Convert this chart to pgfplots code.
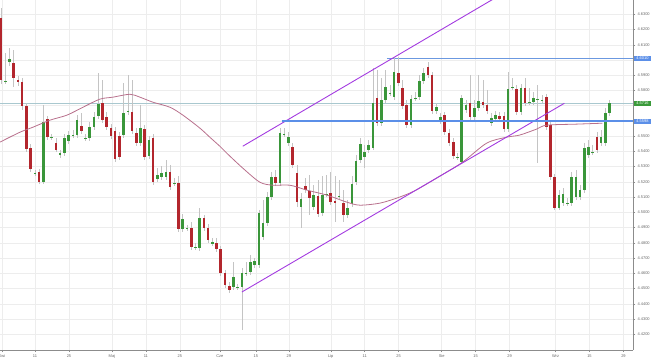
\documentclass[border=0pt]{standalone}
\usepackage{fontspec}
\setmainfont{Liberation Sans}
\usepackage{pgfplots}
\usepackage{pgfplotstable}
\pgfplotsset{compat=1.18}
\definecolor{cgreen}{HTML}{3A963A}
\definecolor{cred}{HTML}{B3262D}
\definecolor{cwick}{HTML}{C4C4C4}
\definecolor{cma}{HTML}{B8708C}
\definecolor{cpurple}{HTML}{A33BE0}
\definecolor{cblue}{HTML}{5B8FE8}
\definecolor{clblue}{HTML}{6B98E0}
\definecolor{cgline}{HTML}{A9C8CF}
\definecolor{cgbox}{HTML}{3A9A3A}

\pgfplotstableread{
x o h l c
1 4.5858 4.6044 4.5841 4.5861
2 4.5985 4.6077 4.5959 4.6005
8 4.5255 4.5277 4.5237 4.5258
10 4.5198 4.5703 4.5185 4.5592
12 4.5491 4.5513 4.5474 4.5494
14 4.5375 4.5408 4.5356 4.5388
15 4.5388 4.5513 4.5369 4.5487
16 4.5467 4.5533 4.5448 4.5507
17 4.5505 4.5539 4.5487 4.5508
18 4.5507 4.5638 4.5487 4.5605
20 4.5485 4.5513 4.5467 4.5488
21 4.5487 4.5592 4.5467 4.5559
22 4.5559 4.5657 4.5539 4.5625
23 4.5631 4.5913 4.5612 4.5710
29 4.5507 4.5848 4.5487 4.5651
30 4.5662 4.5900 4.5638 4.5665
33 4.5454 4.5703 4.5434 4.5553
35 4.5369 4.5500 4.5349 4.5474
37 4.5218 4.5290 4.5198 4.5244
38 4.5231 4.5303 4.5211 4.5257
39 4.5231 4.5342 4.5211 4.5264
41 4.5189 4.5224 4.5172 4.5192
43 4.4890 4.4988 4.4870 4.4955
44 4.4895 4.4916 4.4877 4.4898
46 4.4770 4.4798 4.4752 4.4773
47 4.4765 4.5028 4.4746 4.4962
50 4.4797 4.4831 4.4778 4.4800
55 4.4509 4.4673 4.4490 4.4575
56 4.4507 4.4529 4.4490 4.4510
57 4.4509 4.4634 4.4227 4.4601
58 4.4599 4.4673 4.4581 4.4602
59 4.4607 4.4719 4.4588 4.4673
60 4.4654 4.4700 4.4634 4.4680
61 4.4654 4.5014 4.4634 4.4995
62 4.4837 4.5080 4.4818 4.4929
63 4.4929 4.5132 4.4909 4.5100
64 4.5100 4.5264 4.5080 4.5231
66 4.5191 4.5553 4.5172 4.5520
67 4.5512 4.5553 4.5493 4.5515
68 4.5454 4.5526 4.5434 4.5493
71 4.5034 4.5126 4.4896 4.5087
74 4.5034 4.5178 4.5014 4.5113
76 4.4995 4.5237 4.4975 4.5113
77 4.5118 4.5244 4.5100 4.5121
80 4.5105 4.5211 4.5087 4.5108
82 4.4982 4.5080 4.4962 4.5028
83 4.5054 4.5237 4.5034 4.5185
84 4.5198 4.5375 4.5178 4.5336
85 4.5342 4.5487 4.5323 4.5448
86 4.5362 4.5441 4.5290 4.5395
87 4.5408 4.5474 4.5388 4.5441
88 4.5421 4.5946 4.5408 4.5716
90 4.5585 4.5880 4.5566 4.5736
91 4.5736 4.5933 4.5716 4.5821
92 4.5780 4.5834 4.5762 4.5783
93 4.5756 4.6018 4.5736 4.5920
97 4.5572 4.5769 4.5553 4.5743
98 4.5748 4.5788 4.5729 4.5751
99 4.5756 4.5900 4.5736 4.5861
100 4.5861 4.5946 4.5841 4.5913
103 4.5664 4.5716 4.5644 4.5690
104 4.5598 4.5651 4.5579 4.5625
108 4.5361 4.5388 4.5342 4.5364
109 4.5329 4.5769 4.5316 4.5749
110 4.5670 4.5736 4.5651 4.5703
112 4.5625 4.5736 4.5605 4.5684
113 4.5684 4.5900 4.5664 4.5729
116 4.5585 4.5651 4.5566 4.5618
117 4.5612 4.5664 4.5592 4.5638
120 4.5546 4.5920 4.5526 4.5808
121 4.5819 4.5880 4.5802 4.5822
123 4.5657 4.5841 4.5638 4.5815
125 4.5721 4.5815 4.5703 4.5724
126 4.5723 4.5788 4.5703 4.5749
127 4.5741 4.5834 4.5323 4.5744
128 4.5734 4.5769 4.5716 4.5737
132 4.5028 4.5146 4.5014 4.5113
133 4.5060 4.5159 4.5041 4.5119
134 4.5059 4.5093 4.5041 4.5062
135 4.5060 4.5264 4.5041 4.5231
136 4.5100 4.5277 4.5080 4.5231
137 4.5100 4.5178 4.5080 4.5146
138 4.5146 4.5454 4.5126 4.5421
139 4.5375 4.5474 4.5356 4.5428
140 4.5394 4.5441 4.5375 4.5397
142 4.5454 4.5539 4.5434 4.5493
143 4.5454 4.5684 4.5434 4.5651
144 4.5651 4.5736 4.5631 4.5716
}\greentab

\pgfplotstableread{
x o h l c
0 4.6274 4.6340 4.5841 4.5867
3 4.5979 4.6064 4.5821 4.5880
4 4.5867 4.5893 4.5828 4.5854
5 4.5854 4.5880 4.5670 4.5697
6 4.5697 4.5716 4.5395 4.5415
7 4.5421 4.5448 4.5264 4.5283
9 4.5264 4.5283 4.5185 4.5198
11 4.5612 4.5631 4.5474 4.5493
13 4.5454 4.5487 4.5395 4.5408
19 4.5566 4.5651 4.5513 4.5533
24 4.5716 4.5867 4.5585 4.5605
25 4.5625 4.5657 4.5539 4.5559
26 4.5553 4.5579 4.5480 4.5500
27 4.5533 4.5559 4.5329 4.5349
28 4.5500 4.5526 4.5342 4.5362
31 4.5657 4.5867 4.5513 4.5533
32 4.5520 4.5553 4.5434 4.5454
34 4.5546 4.5572 4.5342 4.5362
36 4.5487 4.5513 4.5178 4.5198
40 4.5264 4.5310 4.5146 4.5165
42 4.5191 4.5237 4.4870 4.4890
45 4.4896 4.4936 4.4752 4.4772
48 4.4962 4.4982 4.4877 4.4896
49 4.4896 4.4923 4.4798 4.4818
51 4.4798 4.4831 4.4739 4.4759
52 4.4759 4.4778 4.4581 4.4601
53 4.4601 4.4620 4.4503 4.4522
54 4.4516 4.4542 4.4470 4.4490
65 4.5231 4.5277 4.5172 4.5191
69 4.5428 4.5454 4.5290 4.5310
70 4.5257 4.5310 4.5034 4.5067
72 4.5172 4.5224 4.5126 4.5146
73 4.5139 4.5244 4.4982 4.5093
75 4.5106 4.5211 4.4969 4.4988
78 4.5126 4.5264 4.5047 4.5067
79 4.5073 4.5237 4.4936 4.5060
81 4.5060 4.5146 4.4936 4.4982
89 4.5749 4.5933 4.5566 4.5585
94 4.5913 4.6018 4.5828 4.5848
95 4.5815 4.5867 4.5677 4.5697
96 4.5703 4.5736 4.5553 4.5572
101 4.5952 4.5985 4.5880 4.5900
102 4.5900 4.5920 4.5644 4.5664
105 4.5638 4.5657 4.5507 4.5526
106 4.5520 4.5546 4.5434 4.5454
107 4.5461 4.5487 4.5349 4.5369
111 4.5716 4.5900 4.5605 4.5625
114 4.5723 4.5867 4.5684 4.5703
115 4.5703 4.5802 4.5644 4.5664
118 4.5631 4.5657 4.5592 4.5612
119 4.5631 4.5657 4.5526 4.5546
122 4.5808 4.5834 4.5638 4.5657
124 4.5815 4.5880 4.5697 4.5716
129 4.5756 4.5775 4.5539 4.5559
130 4.5572 4.5592 4.5211 4.5231
131 4.5231 4.5251 4.5014 4.5028
141 4.5493 4.5526 4.5388 4.5408
}\redtab

\begin{document}
\begin{tikzpicture}[trim left=0bp]
\begin{axis}[
  scale only axis, width=634bp, height=350bp,
  xmin=-0.24, xmax=149.65, ymin=4.4096, ymax=4.6392,
  axis x line*=bottom, axis y line*=right,
  axis line style={draw=black!45, line width=0.6bp},
  ytick={4.42,4.43,4.44,4.45,4.46,4.47,4.48,4.49,4.50,4.51,4.52,4.53,4.54,4.55,4.56,4.57,4.58,4.59,4.60,4.61,4.62,4.63},
  yticklabels={4.4200,4.4300,4.4400,4.4500,4.4600,4.4700,4.4800,4.4900,4.5000,4.5100,4.5200,4.5300,4.5400,4.5500,,,4.5800,4.5900,,4.6100,4.6200,4.6300},
  yticklabel style={font=\fontsize{4}{5}\selectfont, text=black!60, xshift=-1.5bp},
  /pgf/number format/assume math mode=true,
  xtick={0.24,8.04,16.08,26.24,34.28,42.32,51.77,60.28,68.09,78.01,86.05,94.09,104.26,112.29,120.33,131.21,139.24,147.28},
  xticklabels={Kwi,11,25,Maj,11,25,Cze,15,29,Lip,11,25,Sie,15,29,Wrz,15,29},
  xticklabel style={font=\fontsize{4}{5}\selectfont, text=black!60, yshift=1.2bp},
  grid=major, grid style={draw=black!7, line width=0.4bp},
  tick style={draw=black!45, line width=0.4bp}, major tick length=2bp, tick align=outside,
  clip mode=individual,
]
% reference lines
\addplot[draw=cgline, line width=0.7bp, mark=none] coordinates {(-0.24,4.5716) (149.65,4.5716)};
\addplot[draw=clblue, line width=0.8bp, mark=none] coordinates {(91.3,4.6010) (149.65,4.6010)};
% wicks
\addplot[draw=none, mark=none, error bars/.cd, y dir=both, y explicit, error mark=none,
  error bar style={draw=cwick, line width=0.6bp}]
  table[x=x, y expr={(\thisrow{h}+\thisrow{l})/2}, y error expr={(\thisrow{h}-\thisrow{l})/2}] {\greentab};
\addplot[draw=none, mark=none, error bars/.cd, y dir=both, y explicit, error mark=none,
  error bar style={draw=cwick, line width=0.6bp}]
  table[x=x, y expr={(\thisrow{h}+\thisrow{l})/2}, y error expr={(\thisrow{h}-\thisrow{l})/2}] {\redtab};
% bodies
\addplot[draw=none, mark=none, error bars/.cd, y dir=both, y explicit, error mark=none,
  error bar style={draw=cgreen, line width=2.6bp}]
  table[x=x, y expr={(\thisrow{o}+\thisrow{c})/2}, y error expr={max(abs(\thisrow{c}-\thisrow{o})/2,0.00035)}] {\greentab};
\addplot[draw=none, mark=none, error bars/.cd, y dir=both, y explicit, error mark=none,
  error bar style={draw=cred, line width=2.6bp}]
  table[x=x, y expr={(\thisrow{o}+\thisrow{c})/2}, y error expr={max(abs(\thisrow{c}-\thisrow{o})/2,0.00035)}] {\redtab};
% moving average
\addplot[draw=cma, line width=0.8bp, mark=none, smooth, tension=0.5] coordinates {
(-0.24,4.5461) (4.49,4.5526) (7.57,4.5559) (11.58,4.5605) (15.6,4.5638) (19.39,4.5690)
(23.4,4.5743) (26.48,4.5756) (30.5,4.5775) (32.86,4.5756) (35.93,4.5723) (39.95,4.5690)
(43.03,4.5638) (47.04,4.5553) (49.41,4.5493) (51.77,4.5434) (53.43,4.5388) (57.21,4.5290)
(61.23,4.5198) (64.30,4.5178) (68.32,4.5178) (72.34,4.5146) (77.07,4.5113) (81.80,4.5067)
(84.87,4.5047) (89.6,4.5060) (93.6,4.5093) (96.7,4.5126) (99.05,4.5159) (103.8,4.5237)
(109.2,4.5329) (114.9,4.5454) (119.6,4.5493) (122.7,4.5507) (126.7,4.5546) (129.1,4.5572)
(136.2,4.5579) (142.3,4.5585)};
% channel
\addplot[draw=cpurple, line width=0.9bp, mark=none] coordinates {(57.2,4.5434) (118,4.6425)};
\addplot[draw=cpurple, line width=0.9bp, mark=none] coordinates {(57.0,4.4477) (133.3,4.5716)};
\addplot[draw=cblue, line width=1.6bp, mark=none] coordinates {(66.4,4.5598) (149.65,4.5598)};
\coordinate (L1) at (axis cs:149.65,4.6010);
\coordinate (L2) at (axis cs:149.65,4.5716);
\coordinate (L3) at (axis cs:149.65,4.5598);
\end{axis}
\tikzset{lbl/.style={anchor=west, text=white, font=\fontsize{4}{5}\selectfont, inner xsep=1.2bp, inner ysep=0.9bp, minimum width=17bp}}
\node[lbl, fill=cblue] at ([xshift=0.3bp]L1) {4.6010};
\node[lbl, fill=cgbox] at ([xshift=0.3bp]L2) {4.5716};
\node[lbl, fill=cblue] at ([xshift=0.3bp]L3) {4.5598};
\end{tikzpicture}
\end{document}
